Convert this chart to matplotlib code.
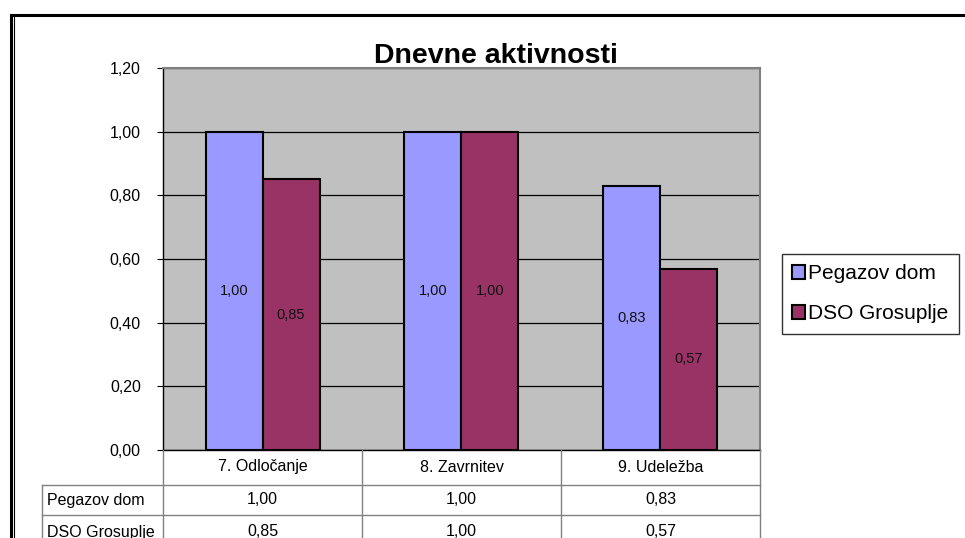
import matplotlib
matplotlib.use("Agg")
import matplotlib.pyplot as plt
import numpy as np
from matplotlib.patches import Rectangle
from matplotlib.lines import Line2D

plt.rcParams['font.family'] = ['Liberation Sans', 'DejaVu Sans']

title = "Dnevne aktivnosti"
categories = ["7. Odločanje", "8. Zavrnitev", "9. Udeležba"]
series_names = ["Pegazov dom", "DSO Grosuplje"]
pegazov = [1.00, 1.00, 0.83]
dso = [0.85, 1.00, 0.57]
yticks = [0.0, 0.2, 0.4, 0.6, 0.8, 1.0, 1.2]
colors = ["#9999FF", "#993366"]

W, H = 965, 538
fig = plt.figure(figsize=(W / 100, H / 100), dpi=100)

def fx(px):
    return px / W

def fy(py):
    return 1 - py / H

# outer border (double line)
fig.add_artist(Rectangle((fx(10.5), fy(600)), fx(1000), fy(14.5) - fy(600), fill=False,
                         edgecolor='black', linewidth=2.2, transform=fig.transFigure))
fig.add_artist(Line2D([fx(13.5), fx(13.5)], [fy(17), fy(600)], color='black', linewidth=0.8,
                      transform=fig.transFigure))

L, R, T, B = 163, 760, 68, 450
ax = fig.add_axes([fx(L), fy(B), fx(R - L), fy(T) - fy(B)])
ax.set_facecolor('#C0C0C0')
x = np.arange(len(categories))
bw = 57 / 199
series = [pegazov, dso]
for i, (vals, c) in enumerate(zip(series, colors)):
    pos = x + (i - 0.5) * bw
    ax.bar(pos, vals, width=bw, color=c, edgecolor='black', linewidth=1.5,
           label=series_names[i], zorder=3)
    for xp, v in zip(pos, vals):
        ax.text(xp, v / 2, f"{v:.2f}".replace('.', ','), ha='center', va='center',
                fontsize=10.5, color='#111111', zorder=4)

ax.set_xlim(-0.5, len(categories) - 0.5)
ax.set_ylim(0, 1.2)
ax.set_yticks(yticks)
ax.set_yticklabels([f"{v:.2f}".replace('.', ',') for v in yticks], fontsize=11.5)
ax.yaxis.grid(True, color='black', linewidth=0.9, zorder=1)
ax.set_axisbelow(True)
ax.set_xticks([])
ax.tick_params(axis='y', length=4, width=0.8, pad=12, direction='out')
ax.spines['left'].set_color('black')
ax.spines['left'].set_linewidth(1.0)
ax.spines['bottom'].set_color('black')
ax.spines['bottom'].set_linewidth(1.0)
ax.spines['top'].set_color('#808080')
ax.spines['right'].set_color('#808080')
ax.spines['top'].set_linewidth(1.5)
ax.spines['right'].set_linewidth(1.5)

fig.text(fx(496), fy(63), title, ha='center', va='baseline', fontsize=20.5, fontweight='bold')

# data table below the axes
grid_c = '#808080'
col_x = [L + (R - L) * k / len(categories) for k in range(len(categories) + 1)]
row_y = [B, 485, 515, 545]
lab_x = 42
def hline(y, x0, x1):
    fig.add_artist(Line2D([fx(x0), fx(x1)], [fy(y), fy(y)], color=grid_c, linewidth=1.0,
                          transform=fig.transFigure))
def vline(xp, y0, y1):
    fig.add_artist(Line2D([fx(xp), fx(xp)], [fy(y0), fy(y1)], color=grid_c, linewidth=1.0,
                          transform=fig.transFigure))
hline(row_y[1], lab_x, R)
hline(row_y[2], lab_x, R)
for xp in col_x:
    vline(xp, B, 545)
vline(lab_x, row_y[1], 545)

tfs = 11.5
for k, cat in enumerate(categories):
    cx = (col_x[k] + col_x[k + 1]) / 2
    fig.text(fx(cx), fy(467), cat, ha='center', va='center', fontsize=tfs)
row_centers = [500, 532]
for r, (name, vals) in enumerate(zip(series_names, series)):
    cy = row_centers[r]
    fig.text(fx(lab_x + 5), fy(cy), name, ha='left', va='center', fontsize=tfs)
    for k, v in enumerate(vals):
        cx = (col_x[k] + col_x[k + 1]) / 2
        fig.text(fx(cx), fy(cy), f"{v:.2f}".replace('.', ','), ha='center', va='center', fontsize=tfs)

# legend
leg = fig.legend(*ax.get_legend_handles_labels(), loc='upper left',
                 bbox_to_anchor=(fx(782), fy(254)), frameon=True, fancybox=False,
                 edgecolor='black', fontsize=15, handlelength=0.6, handleheight=0.6,
                 handletextpad=0.15, labelspacing=1.0, borderpad=0.5, borderaxespad=0)
leg.get_frame().set_linewidth(1.0)

fig.savefig("out.png", dpi=100)
